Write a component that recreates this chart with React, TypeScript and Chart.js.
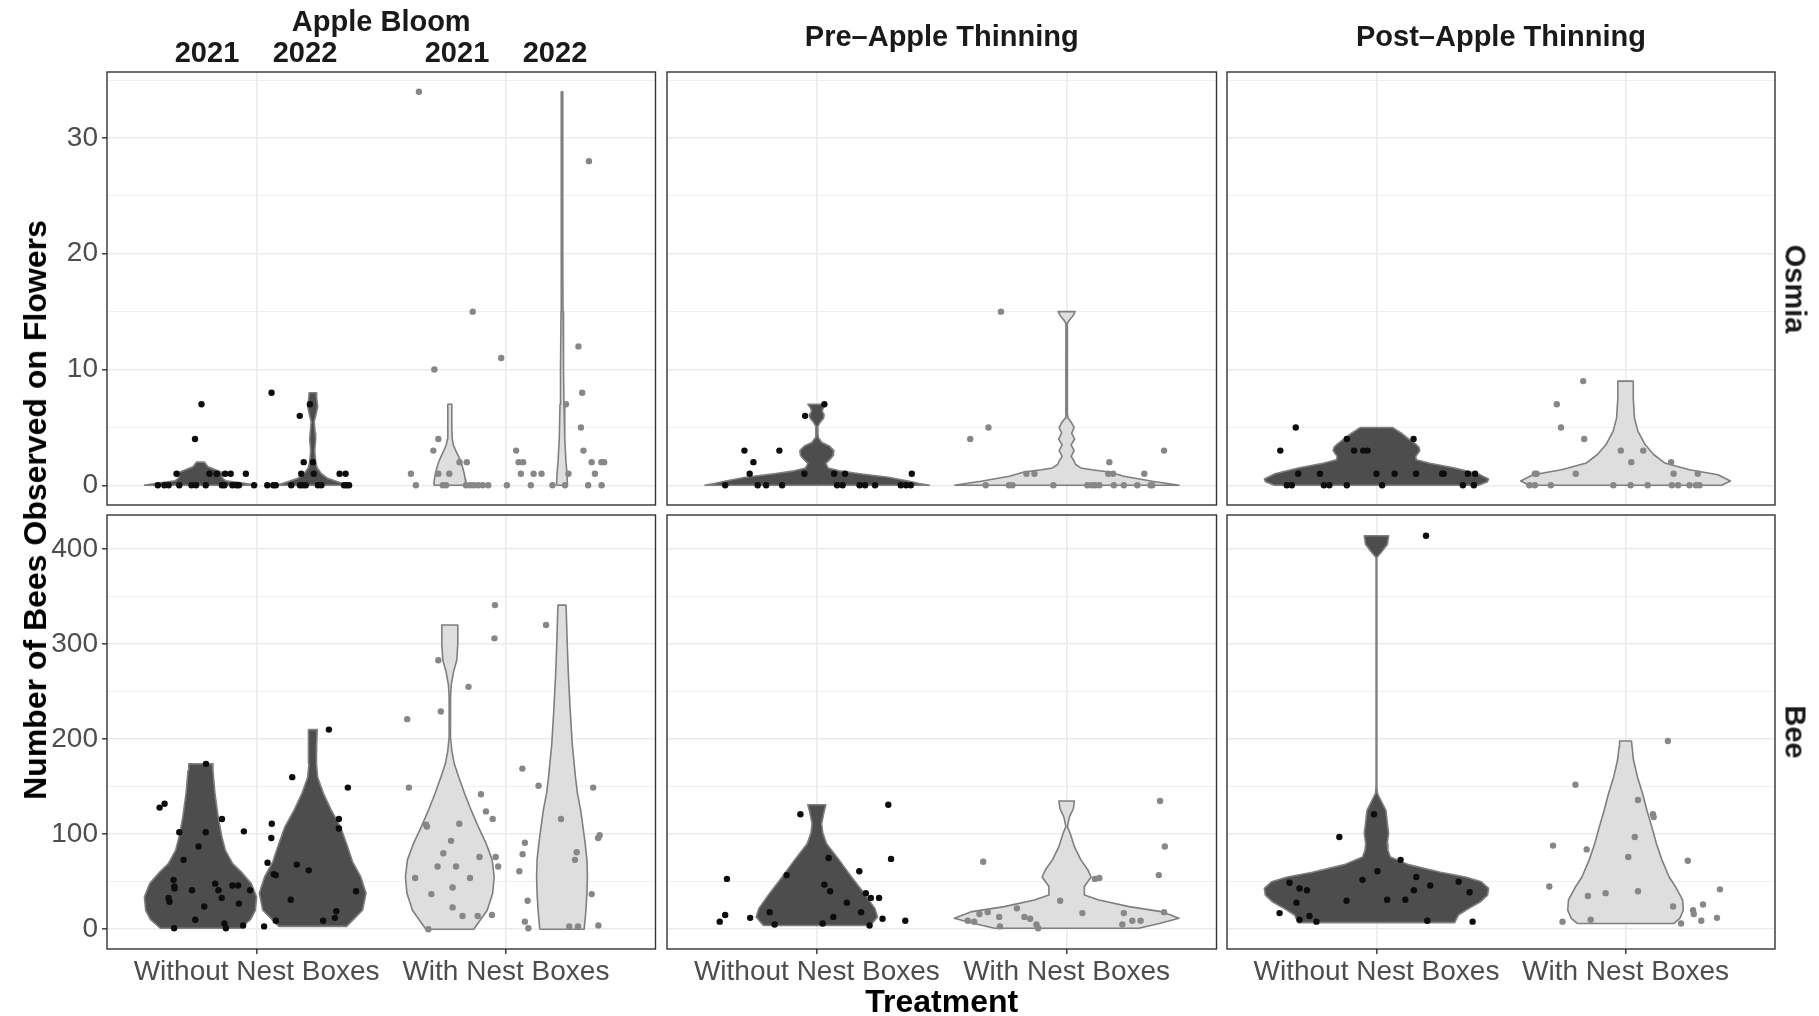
import React, { useEffect, useRef } from 'react';
import { Chart, registerables } from 'chart.js';

Chart.register(...registerables);

// ---------- labels ----------
const TREATMENTS = ['Without Nest Boxes', 'With Nest Boxes'];
const PERIODS = ['Apple Bloom', 'Pre–Apple Thinning', 'Post–Apple Thinning'];
const GROUPS = ['Osmia', 'Bee'];
const YEARS = ['2021', '2022'];
const Y_TITLE = 'Number of Bees Observed on Flowers';
const X_TITLE = 'Treatment';

// ---------- y ticks ----------
const OSMIA_TICKS = [0, 10, 20, 30];
const OSMIA_MINOR = [5, 15, 25, 35];
const BEE_TICKS = [0, 100, 200, 300, 400];
const BEE_MINOR = [50, 150, 250, 350];
const OSMIA_RANGE = [0, 34];
const BEE_RANGE = [0, 415];

// ---------- jittered observations: [treatment position (1 = without, 2 = with), count] ----------
const osmiaBloomWithout = [
  [0.604, 0], [0.63, 0], [0.647, 0], [0.69, 0], [0.739, 0], [0.757, 0], [0.796, 0], [0.861, 0], [0.871, 0], [0.903, 0],
  [0.919, 0], [0.929, 0], [0.99, 0], [1.043, 0], [1.067, 0], [1.077, 0], [1.139, 0], [1.174, 0], [1.186, 0], [1.197, 0],
  [1.246, 0], [1.26, 0], [1.351, 0], [1.361, 0], [1.371, 0],
  [0.679, 1], [0.811, 1], [0.84, 1], [0.874, 1], [0.896, 1], [0.957, 1], [1.179, 1], [1.229, 1], [1.333, 1], [1.357, 1],
  [1.189, 2], [1.226, 2], [0.753, 4], [1.173, 6], [0.779, 7], [1.214, 7], [1.06, 8],
];
const osmiaBloomWith = [
  [1.639, 0], [1.747, 0], [1.76, 0], [1.84, 0], [1.857, 0], [1.871, 0], [1.889, 0], [1.907, 0], [1.929, 0], [2.004, 0],
  [2.1, 0], [2.187, 0], [2.237, 0], [2.33, 0], [2.384, 0],
  [1.619, 1], [1.729, 1], [1.773, 1], [2.06, 1], [2.111, 1], [2.143, 1], [2.251, 1], [2.357, 1],
  [1.814, 2], [1.843, 2], [2.051, 2], [2.069, 2], [2.344, 2], [2.383, 2], [2.394, 2],
  [1.709, 3], [2.041, 3], [2.311, 3], [1.729, 4], [2.301, 5], [2.241, 7], [2.306, 8], [1.713, 10], [1.981, 11],
  [2.291, 12], [1.867, 15], [2.333, 28], [1.651, 34],
];
const osmiaPreWithout = [
  [0.633, 0], [0.763, 0], [0.797, 0], [0.861, 0], [1.081, 0], [1.103, 0], [1.171, 0], [1.193, 0], [1.233, 0], [1.336, 0],
  [1.357, 0], [1.376, 0],
  [0.731, 1], [0.95, 1], [1.069, 1], [1.113, 1], [1.38, 1],
  [0.746, 2], [0.71, 3], [0.85, 3], [0.953, 6], [1.03, 7],
];
const osmiaPreWith = [
  [1.676, 0], [1.769, 0], [1.783, 0], [1.947, 0], [2.083, 0], [2.1, 0], [2.114, 0], [2.131, 0], [2.189, 0], [2.229, 0],
  [2.283, 0], [2.336, 0], [2.343, 0],
  [1.839, 1], [1.871, 1], [2.167, 1], [2.186, 1], [2.311, 1],
  [2.171, 2], [2.39, 3], [1.614, 4], [1.687, 5], [1.737, 15],
];
const osmiaPostWithout = [
  [0.64, 0], [0.66, 0], [0.789, 0], [0.811, 0], [0.881, 0], [1.023, 0], [1.347, 0], [1.391, 0],
  [0.686, 1], [0.773, 1], [1.0, 1], [1.073, 1], [1.159, 1], [1.264, 1], [1.27, 1], [1.367, 1], [1.396, 1],
  [0.614, 3], [0.91, 3], [0.947, 3], [0.964, 3], [0.881, 4], [1.149, 4], [0.676, 5],
];
const osmiaPostWith = [
  [1.614, 0], [1.636, 0], [1.7, 0], [1.951, 0], [2.02, 0], [2.089, 0], [2.186, 0], [2.211, 0], [2.257, 0], [2.283, 0],
  [2.297, 0],
  [1.636, 1], [1.643, 1], [1.8, 1], [2.193, 1], [2.29, 1],
  [2.023, 2], [2.183, 2], [1.981, 3], [2.071, 3], [1.834, 4], [1.741, 5], [1.724, 7], [1.83, 9],
];
const beeBloomWithout = [
  [0.611, 128], [0.631, 132], [0.69, 102], [0.796, 102], [0.861, 116], [0.949, 103], [0.767, 87], [0.707, 73],
  [0.667, 52], [0.67, 45], [0.671, 43], [0.647, 33], [0.651, 29], [0.741, 41], [0.834, 48], [0.847, 41], [0.86, 33],
  [0.903, 46], [0.926, 46], [0.974, 41], [0.929, 27], [0.79, 24], [0.754, 10], [0.669, 1], [0.871, 6], [0.877, 1],
  [0.946, 4], [0.797, 174],
  [1.061, 111], [1.059, 96], [1.044, 70], [1.069, 58], [1.077, 57], [1.161, 68], [1.209, 62], [1.143, 160],
  [1.29, 210], [1.366, 149], [1.33, 116], [1.33, 106], [1.399, 40], [1.137, 31], [1.32, 19], [1.314, 12],
  [1.267, 9], [1.077, 9], [1.03, 3],
];
const beeBloomWith = [
  [1.604, 221], [1.611, 149], [1.729, 283], [1.85, 255], [1.739, 229], [1.68, 110], [1.683, 108], [1.813, 111],
  [1.78, 93], [1.749, 80], [1.726, 66], [1.8, 66], [1.636, 54], [1.701, 37], [1.786, 44], [1.786, 23], [1.826, 14],
  [1.689, 0], [1.856, 54], [1.894, 76], [1.9, 142], [1.92, 124], [1.947, 116], [1.959, 76], [1.969, 66], [1.887, 14],
  [1.944, 15], [1.954, 306], [1.956, 341],
  [2.161, 320], [2.066, 169], [2.131, 151], [2.221, 116], [2.35, 149], [2.376, 99], [2.37, 96], [2.076, 91],
  [2.067, 79], [2.054, 61], [2.284, 81], [2.277, 73], [2.087, 30], [2.344, 37], [2.076, 8], [2.09, 1], [2.254, 3],
  [2.289, 3], [2.371, 4],
];
const beePreWithout = [
  [0.611, 8], [0.633, 15], [0.64, 53], [0.733, 12], [0.811, 18], [0.831, 5], [0.879, 57], [0.934, 121], [1.047, 75],
  [1.03, 47], [1.053, 40], [1.023, 6], [1.066, 13], [1.12, 28], [1.17, 61], [1.177, 18], [1.196, 38], [1.216, 33],
  [1.249, 33], [1.211, 4], [1.263, 11], [1.286, 131], [1.297, 74], [1.354, 9],
];
const beePreWith = [
  [1.604, 9], [1.63, 8], [1.651, 16], [1.684, 18], [1.666, 71], [1.73, 13], [1.733, 3], [1.801, 22], [1.831, 13],
  [1.854, 11], [1.879, 5], [1.886, 1], [1.974, 30], [2.063, 17], [2.113, 53], [2.131, 54], [2.223, 5], [2.229, 17],
  [2.263, 9], [2.296, 9], [2.369, 57], [2.393, 87], [2.374, 135], [2.39, 18],
];
const beePostWithout = [
  [0.611, 17], [0.651, 49], [0.679, 28], [0.691, 43], [0.721, 41], [0.691, 10], [0.731, 14], [0.759, 8], [0.851, 97],
  [0.88, 30], [0.944, 52], [0.99, 121], [1.004, 61], [1.043, 31], [1.097, 73], [1.116, 31], [1.15, 41], [1.16, 55],
  [1.216, 46], [1.204, 9], [1.33, 50], [1.374, 39], [1.386, 8], [1.199, 414],
];
const beePostWith = [
  [1.709, 88], [1.694, 45], [1.747, 8], [1.799, 152], [1.844, 84], [1.849, 35], [1.86, 10], [1.92, 38], [2.011, 76],
  [2.037, 97], [2.05, 136], [2.05, 40], [2.11, 121], [2.113, 118], [2.17, 198], [2.191, 24], [2.25, 72], [2.223, 6],
  [2.271, 20], [2.274, 16], [2.311, 26], [2.304, 9], [2.367, 12], [2.379, 42],
];

// ---------- violin outlines: [count, half-width in treatment units] ----------
const vOsmiaBloomWithout2021 = [[0, 0.227], [0.2, 0.17], [0.4, 0.1], [0.7, 0.085], [1, 0.1], [1.3, 0.065], [1.6, 0.03], [2, 0.016]];
const vOsmiaBloomWithout2022 = [[0, 0.143], [0.3, 0.1], [0.6, 0.06], [1, 0.035], [1.5, 0.018], [2, 0.012], [3, 0.008], [4, 0.012], [4.5, 0.01], [5.5, 0.006], [6, 0.012], [6.8, 0.02], [7.5, 0.016], [8, 0.014]];
const vOsmiaBloomWith2021 = [[0, 0.064], [0.5, 0.062], [1, 0.058], [1.5, 0.052], [2, 0.045], [2.5, 0.035], [3, 0.024], [3.5, 0.014], [4, 0.01], [5, 0.008], [7, 0.008]];
const vOsmiaBloomWith2022 = [[0, 0.022], [1, 0.02], [2, 0.016], [4, 0.011], [7, 0.008], [10, 0.006], [15, 0.004], [20, 0.003], [34, 0.003]];
const vOsmiaPreWithout = [[0, 0.45], [0.15, 0.41], [0.35, 0.37], [0.7, 0.286], [1, 0.171], [1.25, 0.09], [1.5, 0.045], [1.9, 0.036], [2.3, 0.055], [2.6, 0.066], [3, 0.068], [3.4, 0.05], [3.7, 0.02], [4.1, 0.006], [4.5, 0.004], [5.1, 0.004], [5.5, 0.015], [5.8, 0.027], [6.1, 0.029], [6.4, 0.021], [6.7, 0.026], [7, 0.036]];
const vOsmiaPreWith = [[0, 0.45], [0.35, 0.343], [0.78, 0.229], [1.15, 0.171], [1.35, 0.1], [1.5, 0.057], [1.8, 0.036], [2.1, 0.03], [2.5, 0.018], [3, 0.03], [3.5, 0.018], [4, 0.032], [4.5, 0.02], [5, 0.03], [5.4, 0.02], [5.8, 0.006], [6.2, 0.003], [14, 0.003], [14.3, 0.012], [14.6, 0.024], [15, 0.034]];
const vOsmiaPostWithout = [[0, 0.41], [0.3, 0.445], [0.55, 0.45], [1, 0.407], [1.5, 0.314], [1.9, 0.214], [2.2, 0.16], [2.5, 0.158], [2.8, 0.168], [3, 0.174], [3.3, 0.17], [3.6, 0.155], [4, 0.13], [4.5, 0.1], [5, 0.064]];
const vOsmiaPostWith = [[0, 0.386], [0.37, 0.421], [0.92, 0.371], [1.35, 0.257], [1.93, 0.157], [2.64, 0.114], [3.5, 0.079], [4.66, 0.05], [5.8, 0.036], [7.5, 0.031], [9, 0.031]];
const vBeeBloomWithout2021 = [[1, 0.16], [10, 0.2], [20, 0.22], [34, 0.225], [48, 0.204], [59, 0.168], [69, 0.129], [83, 0.1], [97, 0.086], [118, 0.071], [143, 0.058], [167, 0.05], [174, 0.047]];
const vBeeBloomWithout2022 = [[3, 0.136], [20, 0.2], [38, 0.214], [55, 0.193], [71, 0.16], [90, 0.136], [108, 0.111], [125, 0.075], [143, 0.043], [160, 0.02], [174, 0.015], [195, 0.016], [210, 0.018]];
const vBeeBloomWith2021 = [[0, 0.096], [20, 0.15], [38, 0.172], [55, 0.178], [73, 0.17], [90, 0.146], [108, 0.114], [125, 0.086], [143, 0.059], [160, 0.036], [174, 0.018], [188, 0.008], [202, 0.003], [216, 0.002], [230, 0.003], [244, 0.003], [258, 0.006], [272, 0.016], [283, 0.028], [300, 0.032], [320, 0.032]];
const vBeeBloomWith2022 = [[0, 0.089], [20, 0.096], [38, 0.1], [55, 0.102], [73, 0.1], [90, 0.093], [108, 0.084], [125, 0.075], [143, 0.062], [160, 0.054], [195, 0.041], [230, 0.033], [265, 0.026], [300, 0.021], [335, 0.017], [341, 0.016]];
const vBeePreWithout = [[4, 0.214], [13, 0.243], [22, 0.232], [38, 0.189], [55, 0.139], [73, 0.089], [90, 0.039], [101, 0.024], [111, 0.019], [125, 0.03], [131, 0.036]];
const vBeePreWith = [[1, 0.289], [6, 0.371], [11.6, 0.45], [18.6, 0.379], [23.8, 0.25], [30.8, 0.129], [36, 0.071], [45, 0.071], [55, 0.098], [62, 0.086], [73, 0.057], [87, 0.031], [101, 0.014], [108, 0.003], [118, 0.011], [127, 0.027], [135, 0.031]];
const vBeePostWithout = [[7, 0.314], [15, 0.329], [22, 0.371], [29, 0.418], [36, 0.446], [43, 0.45], [50, 0.421], [55, 0.357], [60, 0.257], [68, 0.129], [76, 0.056], [83, 0.046], [90, 0.043], [101, 0.049], [111, 0.044], [125, 0.038], [136, 0.017], [143, 0.004], [150, 0.0015], [391, 0.0015], [397, 0.021], [405, 0.044], [414, 0.049]];
const vBeePostWith = [[6, 0.193], [11.5, 0.218], [20, 0.232], [31, 0.229], [45, 0.2], [55, 0.175], [73, 0.146], [90, 0.124], [108, 0.105], [125, 0.086], [143, 0.068], [160, 0.048], [178, 0.032], [192, 0.026], [198, 0.024]];

// ---------- styling / layout (not data) ----------
const W = 1819;
const H = 1016;
const COL_X = [[107, 655.5], [667, 1216.5], [1227, 1775]];
const ROW_Y = [[72, 505], [515, 949]];
const Y_AXIS_W = 100;
const X_AXIS_H = 50;
const DODGE = 0.225;
const FONT = '"Liberation Sans", Arial, Helvetica, sans-serif';
const DARK_FILL = '#4d4d4d';
const LIGHT_FILL = '#dedede';
const OUTLINE = '#7f7f7f';
const DARK_PT = '#0d0d0d';
const GREY_PT = '#878787';
const GRID = '#ebebeb';

type Violin = { t: number; year?: number; profile: number[][] };
type Panel = { row: number; col: number; without: number[][]; withB: number[][]; violins: Violin[] };

const PANELS: Panel[] = [
  { row: 0, col: 0, without: osmiaBloomWithout, withB: osmiaBloomWith, violins: [
    { t: 1, year: 0, profile: vOsmiaBloomWithout2021 }, { t: 1, year: 1, profile: vOsmiaBloomWithout2022 },
    { t: 2, year: 0, profile: vOsmiaBloomWith2021 }, { t: 2, year: 1, profile: vOsmiaBloomWith2022 }] },
  { row: 0, col: 1, without: osmiaPreWithout, withB: osmiaPreWith, violins: [
    { t: 1, profile: vOsmiaPreWithout }, { t: 2, profile: vOsmiaPreWith }] },
  { row: 0, col: 2, without: osmiaPostWithout, withB: osmiaPostWith, violins: [
    { t: 1, profile: vOsmiaPostWithout }, { t: 2, profile: vOsmiaPostWith }] },
  { row: 1, col: 0, without: beeBloomWithout, withB: beeBloomWith, violins: [
    { t: 1, year: 0, profile: vBeeBloomWithout2021 }, { t: 1, year: 1, profile: vBeeBloomWithout2022 },
    { t: 2, year: 0, profile: vBeeBloomWith2021 }, { t: 2, year: 1, profile: vBeeBloomWith2022 }] },
  { row: 1, col: 1, without: beePreWithout, withB: beePreWith, violins: [
    { t: 1, profile: vBeePreWithout }, { t: 2, profile: vBeePreWith }] },
  { row: 1, col: 2, without: beePostWithout, withB: beePostWith, violins: [
    { t: 1, profile: vBeePostWithout }, { t: 2, profile: vBeePostWith }] },
];

function violinDatasets(center: number, profile: number[][], fillColor: string) {
  const left = profile.map(([v, h]) => ({ x: center - h, y: v }));
  const right = profile.map(([v, h]) => ({ x: center + h, y: v }));
  const outline = [...left, ...right.slice().reverse(), left[0]];
  return [
    { type: 'line', indexAxis: 'y', data: left, borderColor: 'rgba(0,0,0,0)', borderWidth: 1, pointRadius: 0, fill: false, tension: 0, order: 10 },
    { type: 'line', indexAxis: 'y', data: right, borderColor: 'rgba(0,0,0,0)', borderWidth: 1, pointRadius: 0, fill: '-1', backgroundColor: fillColor, tension: 0, order: 10 },
    { type: 'scatter', showLine: true, data: outline, borderColor: OUTLINE, borderWidth: 1.6, borderJoinStyle: 'round', pointRadius: 0, fill: false, order: 5 },
  ];
}

function pointDataset(pts: number[][], color: string) {
  return {
    type: 'scatter',
    data: pts.map(([x, y]) => ({ x, y })),
    pointRadius: 3.2,
    pointHoverRadius: 3.2,
    pointBackgroundColor: color,
    pointBorderColor: color,
    pointBorderWidth: 0,
    order: 0,
  };
}

const framePlugin = {
  id: 'panelFrame',
  afterDatasetsDraw(chart: any) {
    const { ctx, chartArea: a } = chart;
    ctx.save();
    ctx.strokeStyle = '#333333';
    ctx.lineWidth = 1.4;
    ctx.strokeRect(a.left, a.top, a.right - a.left, a.bottom - a.top);
    ctx.restore();
  },
};

function buildConfig(p: Panel): any {
  const [L, R] = COL_X[p.col];
  const [T, B] = ROW_Y[p.row];
  const leftCol = p.col === 0;
  const bottomRow = p.row === 1;
  const isBee = p.row === 1;
  const range = isBee ? BEE_RANGE : OSMIA_RANGE;
  const ext = (range[1] - range[0]) * 0.05;
  const major = isBee ? BEE_TICKS : OSMIA_TICKS;
  const minor = isBee ? BEE_MINOR : OSMIA_MINOR;
  const gridVals = [...major, ...minor].sort((a, b) => a - b);

  const datasets: any[] = [pointDataset(p.without, DARK_PT), pointDataset(p.withB, GREY_PT)];
  p.violins.forEach((v) => {
    const c = v.year === undefined ? v.t : v.t + (v.year === 0 ? -DODGE : DODGE);
    datasets.push(...violinDatasets(c, v.profile, v.t === 1 ? DARK_FILL : LIGHT_FILL));
  });

  return {
    type: 'scatter',
    data: { datasets },
    options: {
      responsive: false,
      animation: false,
      devicePixelRatio: 1,
      events: [],
      layout: {
        padding: {
          left: L - (leftCol ? Y_AXIS_W : 0),
          right: W - R,
          top: T,
          bottom: H - B - (bottomRow ? X_AXIS_H : 0),
        },
      },
      plugins: { legend: { display: false }, tooltip: { enabled: false }, title: { display: false } },
      scales: {
        x: {
          type: 'linear',
          min: 0.4,
          max: 2.6,
          afterBuildTicks: (s: any) => { s.ticks = [1, 2].map((value) => ({ value })); },
          afterFit: (s: any) => { s.height = bottomRow ? X_AXIS_H : 0; },
          border: { display: false },
          grid: { color: GRID, lineWidth: 1.6, drawTicks: bottomRow, tickLength: 5, tickColor: '#333333', tickWidth: 1.4 },
          ticks: {
            display: bottomRow,
            autoSkip: false,
            maxRotation: 0,
            minRotation: 0,
            padding: 1,
            color: '#4d4d4d',
            font: { family: FONT, size: 28 },
            callback: (v: number) => TREATMENTS[Math.round(v) - 1] ?? '',
          },
        },
        y: {
          type: 'linear',
          min: range[0] - ext,
          max: range[1] + ext,
          afterBuildTicks: (s: any) => { s.ticks = gridVals.map((value) => ({ value })); },
          afterFit: (s: any) => { s.width = leftCol ? Y_AXIS_W : 0; },
          border: { display: false },
          grid: {
            color: GRID,
            lineWidth: (ctx: any) => (ctx.tick && major.includes(ctx.tick.value) ? 1.6 : 0.8),
            drawTicks: leftCol,
            tickLength: 5,
            tickWidth: 1.4,
            tickColor: (ctx: any) => (ctx.tick && major.includes(ctx.tick.value) ? '#333333' : 'rgba(0,0,0,0)'),
          },
          ticks: {
            display: leftCol,
            autoSkip: false,
            padding: 4,
            color: '#4d4d4d',
            font: { family: FONT, size: 28 },
            callback: (v: number) => (major.includes(v) ? String(v) : ''),
          },
        },
      },
    },
    plugins: [framePlugin],
  };
}

function Txt(props: { x: number; y: number; size: number; bold?: boolean; rot?: number; color?: string; children: React.ReactNode }) {
  const { x, y, size, bold = true, rot = 0, color = '#1a1a1a', children } = props;
  return (
    <div
      style={{
        position: 'absolute',
        left: x,
        top: y,
        transform: `translate(-50%, -50%) rotate(${rot}deg)`,
        fontFamily: FONT,
        fontSize: size,
        fontWeight: bold ? 700 : 400,
        color,
        whiteSpace: 'nowrap',
        lineHeight: 1,
      }}
    >
      {children}
    </div>
  );
}

export default function App() {
  const refs = useRef<(HTMLCanvasElement | null)[]>([]);

  useEffect(() => {
    Chart.defaults.font.family = FONT;
    const charts = PANELS.map((p, i) => new Chart(refs.current[i] as HTMLCanvasElement, buildConfig(p)));
    return () => charts.forEach((c) => c.destroy());
  }, []);

  const yearX = [207, 305, 457, 555];

  return (
    <div style={{ position: 'fixed', left: 0, top: 0, width: W, height: H, background: '#ffffff', overflow: 'hidden' }}>
      {PANELS.map((_, i) => (
        <canvas
          key={i}
          ref={(el) => { refs.current[i] = el; }}
          width={W}
          height={H}
          style={{ position: 'absolute', left: 0, top: 0, width: W, height: H }}
        />
      ))}
      <Txt x={(COL_X[0][0] + COL_X[0][1]) / 2} y={21} size={29}>{PERIODS[0]}</Txt>
      {yearX.map((x, i) => (
        <Txt key={i} x={x} y={52} size={29}>{YEARS[i % 2]}</Txt>
      ))}
      <Txt x={(COL_X[1][0] + COL_X[1][1]) / 2} y={36} size={29}>{PERIODS[1]}</Txt>
      <Txt x={(COL_X[2][0] + COL_X[2][1]) / 2} y={36} size={29}>{PERIODS[2]}</Txt>
      <Txt x={1795} y={(ROW_Y[0][0] + ROW_Y[0][1]) / 2} size={29} rot={90}>{GROUPS[0]}</Txt>
      <Txt x={1795} y={(ROW_Y[1][0] + ROW_Y[1][1]) / 2} size={29} rot={90}>{GROUPS[1]}</Txt>
      <Txt x={35} y={510} size={32} rot={-90} color="#000000">{Y_TITLE}</Txt>
      <Txt x={(COL_X[1][0] + COL_X[1][1]) / 2} y={1001} size={32} color="#000000">{X_TITLE}</Txt>
    </div>
  );
}
